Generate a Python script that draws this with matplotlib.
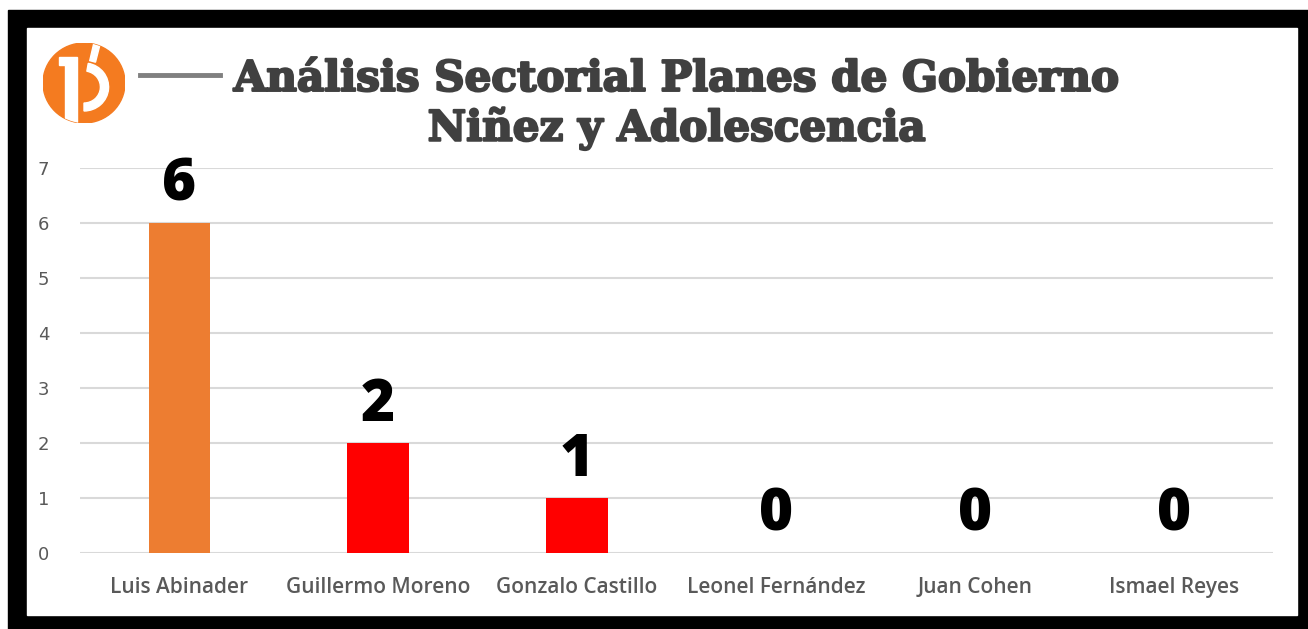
import matplotlib.pyplot as plt
import matplotlib.patheffects as pe
from matplotlib.patches import Rectangle, Circle, Wedge, Polygon

candidatos = ['Luis Abinader', 'Guillermo Moreno', 'Gonzalo Castillo',
              'Leonel Fernández', 'Juan Cohen', 'Ismael Reyes']
valores = [6, 2, 1, 0, 0, 0]
colores = ['#ED7D31', '#FF0000', '#FF0000', '#FF0000', '#FF0000', '#FF0000']
titulo = 'Análisis Sectorial Planes de Gobierno\nNiñez y Adolescencia'

W, H = 1308, 629
fig = plt.figure(figsize=(W / 100, H / 100), dpi=100, facecolor='white')

# marco negro del recuadro
fig.patches.append(Rectangle((8 / W, 0), (W - 8) / W, (H - 10) / H,
                             transform=fig.transFigure, color='black', zorder=-10))
fig.patches.append(Rectangle((27 / W, 14 / H), (1297 - 27) / W, (615 - 28) / H,
                             transform=fig.transFigure, color='white', zorder=-9))

ax = fig.add_axes([80 / W, (H - 553) / H, 1193 / W, 385 / H])
ax.set_facecolor('none')
x = range(len(candidatos))
ax.bar(x, valores, width=0.31, color=colores, zorder=3)
ax.set_xlim(-0.5, len(candidatos) - 0.5)
ax.set_ylim(0, 7)
ax.set_yticks(range(8))
ax.grid(axis='y', color='#D9D9D9', lw=1.5, zorder=0)
for s in ax.spines.values():
    s.set_visible(False)
ax.tick_params(length=0)
ax.tick_params(axis='y', pad=22, labelsize=13, labelcolor='#595959')
ax.set_xticks(list(x))
ax.set_xticklabels(candidatos, fontfamily='Open Sans', fontweight='semibold',
                   fontsize=15, color='#595959')
ax.tick_params(axis='x', pad=17)

for i, v in enumerate(valores):
    ax.annotate(str(v), (i, v), xytext=(0, 6), textcoords='offset points',
                ha='center', va='bottom', fontsize=42, fontweight='heavy',
                fontfamily='Open Sans', color='black')

fig.text(677 / W, 1 - 104 / H, titulo, ha='center', va='center',
         fontsize=30.3, fontweight='bold', fontfamily='DejaVu Serif',
         color='#404040', linespacing=1.2,
         path_effects=[pe.withStroke(linewidth=1.6, foreground='#404040')])

# linea gris junto al logo
fig.add_artist(plt.Line2D([140 / W, 220 / W], [1 - 75 / H, 1 - 75 / H],
                          color='#808080', lw=3.5))

# logo
lg = fig.add_axes([43 / W, 1 - 123 / H, 82 / W, 80 / H])
lg.set_xlim(0, 1)
lg.set_ylim(0, 1)
lg.axis('off')
naranja = '#F47B20'
circulo = Circle((0.5, 0.5), 0.5, color=naranja)
lg.add_patch(circulo)
piezas = [
    Polygon([(0.20, 0.83), (0.41, 0.83), (0.41, 0.0), (0.27, 0.0),
             (0.27, 0.72), (0.20, 0.72)], color='white'),
    Wedge((0.5, 0.45), 0.3, -90, 80, width=0.1, color='white'),
    Polygon([(0.57, 0.78), (0.62, 1.0), (0.7, 1.0), (0.64, 0.76)], color='white'),
]
for p in piezas:
    lg.add_patch(p)
    p.set_clip_path(circulo)

fig.savefig('out.png', dpi=100)
